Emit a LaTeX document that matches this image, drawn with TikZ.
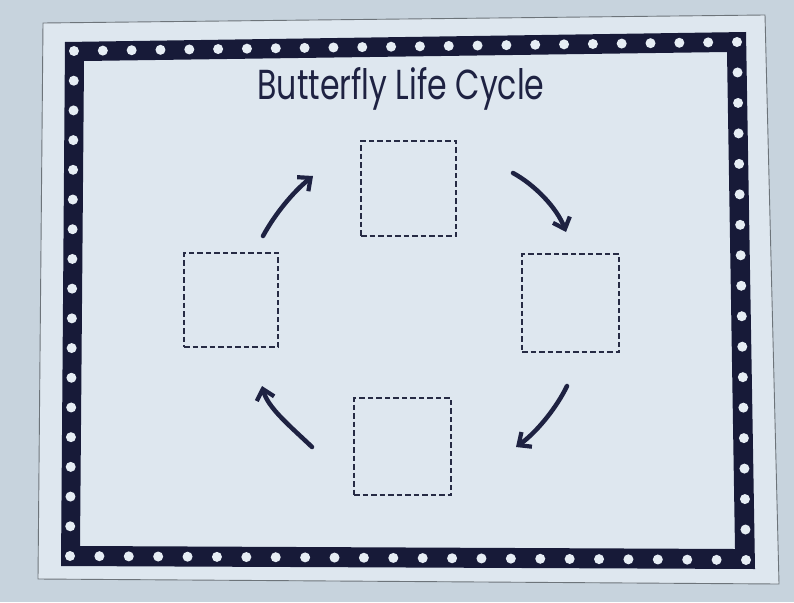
\documentclass[tikz,border=0pt]{standalone}
\usepackage{fontspec}
\usepackage{graphicx}
\newfontfamily\titlefont{Poppins}
\usetikzlibrary{arrows.meta,calc}
\definecolor{bgcol}{HTML}{C7D3DD}
\definecolor{papercol}{HTML}{DEE7EF}
\definecolor{navy}{HTML}{171A38}
\definecolor{inkcol}{HTML}{1E2242}
\definecolor{dashcol}{HTML}{262B44}
\definecolor{dotcol}{HTML}{E6EDF4}
\tikzset{
  stagebox/.style={draw=dashcol, line width=2.5pt, dash pattern=on 5.5pt off 3pt, minimum width=95pt, minimum height=95pt, inner sep=0pt},
  cyclearrow/.style={draw=inkcol, line width=4.5pt, line cap=round, -{Straight Barb[length=10pt,width=18pt,line width=4.2pt]}},
  borderdot/.style={fill=dotcol, draw=none}
}
\begin{document}
\begin{tikzpicture}[x=1pt,y=-1pt]
\useasboundingbox (0,0) rectangle (794,602);
\fill[bgcol] (0,0) rectangle (794,602);
% paper
\fill[papercol, draw=black!45!bgcol, line width=0.9pt] (43,23) -- (765,15) -- (779,584) -- (38,579) -- cycle;
% border band
\fill[navy, even odd rule] (65,42) -- (746,32) -- (755,569) -- (61,566) -- cycle
  (84,61) -- (727,52) -- (735,549) -- (80,546) -- cycle;
% dots
\coordinate (dA) at (74,51);
\coordinate (dB) at (737,42);
\coordinate (dC) at (746,560);
\coordinate (dD) at (70,556);
\foreach \i in {0,...,23}{
  \fill[borderdot] ($(dA)!\i/23!(dB)$) circle (5pt);
  \fill[borderdot] ($(dD)!\i/23!(dC)$) circle (5pt);
}
\foreach \i in {1,...,16}{
  \fill[borderdot] ($(dA)!\i/17!(dD)$) circle (5pt);
  \fill[borderdot] ($(dB)!\i/17!(dC)$) circle (5pt);
}
% title
\node[anchor=base, inner sep=0pt, text=inkcol] (title) at (401,99)
  {\resizebox{287pt}{32pt}{\titlefont Butterfly Life Cycle}};
% stage boxes
\node[stagebox] (topbox) at (408.5,188.5) {};
\node[stagebox, minimum width=97pt, minimum height=98pt] (rightbox) at (570.5,303) {};
\node[stagebox, minimum width=97pt, minimum height=97pt] (bottombox) at (402.5,446.5) {};
\node[stagebox, minimum width=94pt, minimum height=94pt] (leftbox) at (231,300) {};
% arrow ends
\coordinate (a1s) at (263,236);
\coordinate (a1e) at (313,176);
\coordinate (a2s) at (513,173);
\coordinate (a2e) at (566,232);
\coordinate (a3s) at (567,386);
\coordinate (a3e) at (516,447);
\coordinate (a4s) at (312,447);
\coordinate (a4e) at (262,386);
\draw[cyclearrow] (a1s) .. controls (275,214) and (293,192) .. (a1e);
\draw[cyclearrow] (a2s) .. controls (535,185) and (557,208) .. (a2e);
\draw[cyclearrow] (a3s) .. controls (557,407) and (537,432) .. (a3e);
\draw[cyclearrow] (a4s) .. controls (290,426) and (268,408) .. (a4e);
\end{tikzpicture}
\end{document}
